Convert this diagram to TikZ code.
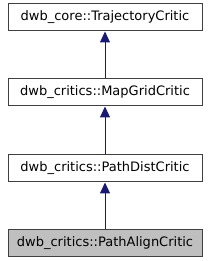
\documentclass[tikz,border=0pt]{standalone}
\usepackage{fontspec}
\setmainfont{DejaVu Sans}
\usetikzlibrary{positioning, arrows.meta}
\definecolor{edgeblue}{HTML}{191970}
\definecolor{boxline}{HTML}{404040}

\begin{document}
\begin{tikzpicture}[x=1pt, y=1pt,
    cls/.style={draw=boxline, line width=1pt, minimum width=194pt,
                minimum height=27pt, inner sep=2pt,
                font=\fontsize{13}{15}\selectfont},
    inh/.style={{Triangle[length=11pt, width=10pt]}-, draw=edgeblue,
                fill=edgeblue, line width=1pt},
]
\useasboundingbox (0,0) rectangle (209,261);
\node[cls] (traj) at (105,243.5) {dwb\_core::TrajectoryCritic};
\node[cls] (grid) at (105,168.5) {dwb\_critics::MapGridCritic};
\node[cls] (dist) at (105,92.5) {dwb\_critics::PathDistCritic};
\node[cls, fill=black!25] (align) at (105,17.5) {dwb\_critics::PathAlignCritic};

\foreach \a/\b in {traj/grid, grid/dist, dist/align}
    \draw[inh] (\a) -- (\b);
\end{tikzpicture}
\end{document}
